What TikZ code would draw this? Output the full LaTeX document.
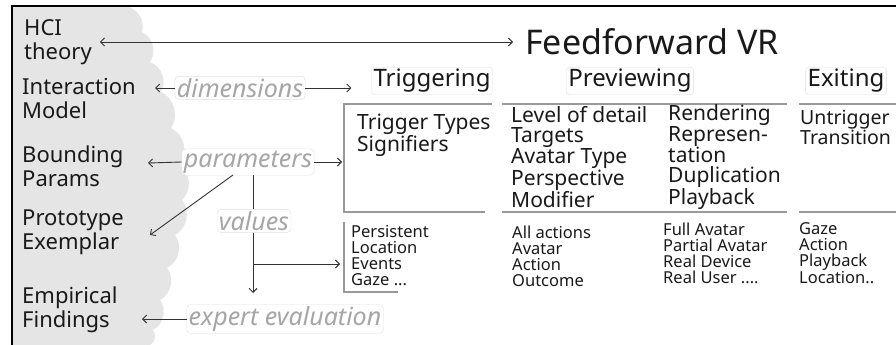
\documentclass[tikz,border=0pt]{standalone}
\usepackage{fontspec}
\setmainfont{Noto Sans}
\usetikzlibrary{arrows.meta, calc}

\begin{document}
\begin{tikzpicture}[x=1pt, y=-1pt, >={Straight Barb[length=4pt,width=8pt]}]
        \useasboundingbox (0,0) rectangle (896,345);
        \tikzstyle{Side} = [anchor=west, align=left, inner sep=0pt, text=black!90, font=\fontsize{22}{24}\selectfont]
        \tikzstyle{Title} = [anchor=west, inner sep=0pt, text=black!90, font=\fontsize{34}{36}\selectfont]
        \tikzstyle{Head} = [fill=white, draw=black!12, rounded corners=3pt, inner sep=2pt, text=black!90, font=\fontsize{24}{26}\selectfont]
        \tikzstyle{Label} = [fill=white, draw=black!12, rounded corners=4pt, inner sep=2pt, text=black!35, font=\fontsize{25}{26}\selectfont\itshape]
        \tikzstyle{Mid} = [anchor=west, align=left, inner sep=0pt, text=black!90, font=\fontsize{21}{20}\selectfont]
        \tikzstyle{Small} = [anchor=west, align=left, inner sep=0pt, text=black!90, font=\fontsize{16.5}{16}\selectfont]
        \tikzstyle{Box} = [draw=black!40, line width=1.4pt]
        \tikzstyle{EdgeStyle} = [draw=black!80, line width=0.9pt]
        % backdrop
        \fill[black!10] (12,6) -- (125,6) to[bend left=50] (142,32) to[bend left=50] (150,62)
            to[bend left=50] (161,92) to[bend left=50] (171,128) to[bend left=50] (180,165)
            to[bend left=50] (182,200) to[bend left=50] (175,235) to[bend left=50] (167,268)
            to[bend left=50] (160,300) to[bend left=50] (153,330) to[bend left=50] (150,345)
            -- (12,345) -- cycle;
        \draw[line width=1.2pt] (12,345) -- (12,6) -- (896,6);
        % left column
        \node[Side] (hci) at (24,42) {HCI\\theory};
        \node[Side] (im) at (22,99) {Interaction\\Model};
        \node[Side] (bp) at (22,166) {Bounding\\Params};
        \node[Side] (pe) at (22,232) {Prototype\\Exemplar};
        \node[Side] (ef) at (22,310) {Empirical\\Findings};
        \node[Title] (ff) at (525,42) {Feedforward VR};
        % phases
        \node[Head] (trig) at (432,81) {Triggering};
        \node[Head] (prev) at (630,81) {Previewing};
        \node[Head] (exit) at (846,81) {Exiting};
        \draw[Box] (492,104) -- (344,104) -- (344,212) -- (485,212);
        \draw[Box] (502,104) -- (787,104) (502,212) -- (787,212);
        \draw[Box] (799,104) -- (896,104) (799,212) -- (896,212);
        \draw[Box] (344,222) -- (344,292) -- (398,292);
        \coordinate (boxl) at (344,104);
        \node[Mid] (trigp) at (357,135) {Trigger Types\\Signifiers};
        \node[Mid] (prevp) at (511,157) {Level of detail\\Targets\\Avatar Type\\Perspective\\Modifier};
        \node[Mid] (rendp) at (668,157) {Rendering\\Represen-\\tation\\Duplication\\Playback};
        \node[Mid, font=\fontsize{19.5}{20}\selectfont] (exitp) at (800,127) {Untrigger\\Transition};
        \node[Small] (trigv) at (351,256) {Persistent\\Location\\Events\\Gaze ...};
        \node[Small] (prevv) at (512,256) {All actions\\Avatar\\Action\\Outcome};
        \node[Small] (rendv) at (663,253) {Full Avatar\\Partial Avatar\\Real Device\\Real User ....};
        \node[Small] (exitv) at (799,253) {Gaze\\Action\\Playback\\Location..};
        % labels and connectors
        \node[Label] (dim) at (240,88) {dimensions};
        \node[Label] (par) at (248,162) {parameters};
        \node[Label] (exp) at (285,319) {expert evaluation};
        \coordinate (imtip) at (155,88);
        \coordinate (bptip) at (148,163);
        \coordinate (petip) at (150,235);
        \coordinate (eftip) at (142,319);
        \coordinate (vtop) at (253,175);
        \coordinate (vbot) at (253,293);
        \coordinate (vmid) at (253,264);
        \draw[EdgeStyle, <->, shorten <=8pt, shorten >=12pt] (hci.east) -- (ff.west);
        \draw[EdgeStyle, ->] (dim.west) -- (imtip);
        \draw[EdgeStyle, ->, shorten >=20pt] (dim.east) -- (dim.east -| trig.west);
        \draw[EdgeStyle, ->] (par.west) -- (bptip);
        \draw[EdgeStyle, ->, shorten >=2pt] (par.east) -- (par.east -| boxl);
        \draw[EdgeStyle, ->] (vtop -| 233,0) -- (petip);
        \draw[EdgeStyle, ->] (vtop) -- (vbot);
        \draw[EdgeStyle, ->, shorten >=4pt] (vmid) -- (vmid -| boxl);
        \draw[EdgeStyle, ->] (exp.west) -- (eftip);
        \node[Label] (val) at (254,221) {values};
\end{tikzpicture}
\end{document}
